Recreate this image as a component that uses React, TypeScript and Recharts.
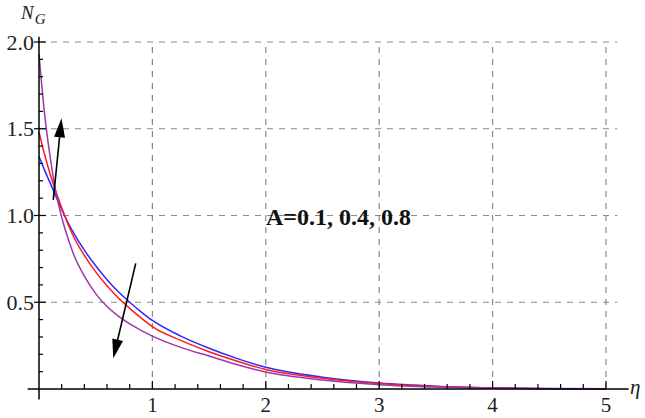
import React from "react";
import { LineChart, Line, XAxis, YAxis, ReferenceLine } from "recharts";

const etaValues = [0, 0.05, 0.1, 0.15, 0.2, 0.25, 0.3, 0.4, 0.5, 0.6, 0.7, 0.8, 0.9, 1.0, 1.25, 1.5, 1.75, 2, 2.5, 3, 3.5, 4, 4.5, 5];
const blueValues = [1.34, 1.26, 1.185, 1.11, 1.035, 0.967, 0.905, 0.8, 0.71, 0.63, 0.56, 0.5, 0.445, 0.395, 0.305, 0.235, 0.175, 0.125, 0.068, 0.034, 0.016, 0.007, 0.003, 0.001];
const redValues = [1.48, 1.35, 1.235, 1.135, 1.045, 0.96, 0.885, 0.77, 0.675, 0.595, 0.525, 0.465, 0.41, 0.36, 0.28, 0.215, 0.16, 0.112, 0.062, 0.031, 0.014, 0.006, 0.002, 0.001];
const purpleValues = [1.93, 1.58, 1.33, 1.13, 0.99, 0.88, 0.785, 0.65, 0.55, 0.475, 0.42, 0.375, 0.338, 0.305, 0.24, 0.19, 0.14, 0.098, 0.052, 0.025, 0.011, 0.004, 0.0015, 0.0005];

const xTicks = [0, 0.2, 0.4, 0.6, 0.8, 1, 1.2, 1.4, 1.6, 1.8, 2, 2.2, 2.4, 2.6, 2.8, 3, 3.2, 3.4, 3.6, 3.8, 4, 4.2, 4.4, 4.6, 4.8, 5];
const xLabels = ["1", "2", "3", "4", "5"];
const yTicks = [0, 0.1, 0.2, 0.3, 0.4, 0.5, 0.6, 0.7, 0.8, 0.9, 1.0, 1.1, 1.2, 1.3, 1.4, 1.5, 1.6, 1.7, 1.8, 1.9, 2.0];
const yLabels = ["0.5", "1.0", "1.5", "2.0"];
const xGrid = [1, 2, 3, 4, 5];
const yGrid = [0.5, 1.0, 1.5, 2.0];
const annotation = "A=0.1, 0.4, 0.8";

const data = etaValues.map((eta, i) => ({
  eta,
  blue: blueValues[i],
  red: redValues[i],
  purple: purpleValues[i],
}));

const FONT = '"Liberation Serif", "Times New Roman", serif';

const isMajor = (v: number, step: number) => Math.abs(v / step - Math.round(v / step)) < 1e-6;

const XTick = (props: any) => {
  const { x, y, payload } = props;
  const v = payload.value;
  const major = isMajor(v, 1);
  if (v === 0) return <g />;
  const label = xLabels.find((l) => Number(l) === Math.round(v));
  return (
    <g>
      <line x1={x} y1={y} x2={x} y2={y - (major ? 8 : 5)} stroke="#000" strokeWidth={1.2} />
      {major && (
        <text x={x} y={y + 23} textAnchor="middle" fontFamily={FONT} fontSize={21} fill="#222">
          {label}
        </text>
      )}
    </g>
  );
};

const YTick = (props: any) => {
  const { x, y, payload } = props;
  const v = payload.value;
  if (v === 0) return <g />;
  const major = isMajor(v, 0.5);
  const label = yLabels.find((l) => Math.abs(Number(l) - v) < 1e-6);
  return (
    <g>
      <line x1={major ? x - 5 : x} y1={y} x2={x + (major ? 7 : 4)} y2={y} stroke="#000" strokeWidth={1.2} />
      {major && (
        <text x={x - 5} y={y + 7.5} textAnchor="end" fontFamily={FONT} fontSize={22} fill="#222">
          {label}
        </text>
      )}
    </g>
  );
};

const arrowShape = (props: any) => {
  const { x1, y1, x2, y2 } = props;
  const dx = x2 - x1;
  const dy = y2 - y1;
  const len = Math.sqrt(dx * dx + dy * dy) || 1;
  const ux = dx / len;
  const uy = dy / len;
  const L = 19;
  const W = 11;
  const bx = x2 - ux * L;
  const by = y2 - uy * L;
  const px = -uy;
  const py = ux;
  const pts = `${x2},${y2} ${bx + (px * W) / 2},${by + (py * W) / 2} ${bx - (px * W) / 2},${by - (py * W) / 2}`;
  return (
    <g>
      <line x1={x1} y1={y1} x2={bx + ux * 3} y2={by + uy * 3} stroke="#000" strokeWidth={1.6} />
      <polygon points={pts} fill="#000" />
    </g>
  );
};

export default function App() {
  return (
    <div style={{ position: "absolute", left: 0, top: 0, width: 645, height: 418, background: "#fff" }}>
      <LineChart
        width={645}
        height={418}
        data={data}
        margin={{ top: 42, right: 27.7, left: 0, bottom: 0 }}
      >
        <XAxis
          dataKey="eta"
          type="number"
          domain={[0, 5.1]}
          ticks={xTicks}
          interval={0}
          axisLine={false}
          tickLine={false}
          tickSize={0}
          tickMargin={0}
          height={29}
          tick={<XTick />}
        />
        <YAxis
          type="number"
          domain={[0, 2]}
          ticks={yTicks}
          interval={0}
          axisLine={false}
          tickLine={false}
          tickSize={0}
          tickMargin={0}
          width={39}
          tick={<YTick />}
        />
        {xGrid.map((v) => (
          <ReferenceLine key={"gx" + v} x={v} stroke="#8a8a8a" strokeWidth={1.2} strokeDasharray="6 6" />
        ))}
        {yGrid.map((v) => (
          <ReferenceLine key={"gy" + v} y={v} stroke="#8a8a8a" strokeWidth={1.2} strokeDasharray="6 6" />
        ))}
        <Line type="monotone" dataKey="blue" stroke="#2a2aff" strokeWidth={1.5} dot={false} isAnimationActive={false} />
        <Line type="monotone" dataKey="red" stroke="#ff1a1a" strokeWidth={1.5} dot={false} isAnimationActive={false} />
        <Line type="monotone" dataKey="purple" stroke="#9a3aa8" strokeWidth={1.5} dot={false} isAnimationActive={false} />
        <ReferenceLine
          segment={[{ x: -0.1, y: 0 }, { x: 5.2, y: 0 }]}
          stroke="#000"
          strokeWidth={1.5}
          ifOverflow="visible"
        />
        <ReferenceLine
          segment={[{ x: 0, y: -0.06 }, { x: 0, y: 2.03 }]}
          stroke="#000"
          strokeWidth={1.5}
          ifOverflow="visible"
        />
        <ReferenceLine
          segment={[{ x: 0.126, y: 1.09 }, { x: 0.198, y: 1.56 }]}
          ifOverflow="visible"
          shape={arrowShape}
        />
        <ReferenceLine
          segment={[{ x: 0.853, y: 0.724 }, { x: 0.655, y: 0.177 }]}
          ifOverflow="visible"
          shape={arrowShape}
        />
      </LineChart>
      <svg width={645} height={418} style={{ position: "absolute", left: 0, top: 0, pointerEvents: "none" }}>
        <text x={266} y={225} fontFamily={FONT} fontWeight="bold" fontSize={24} fill="#111">
          {annotation}
        </text>
        <text x={21} y={19} fontFamily={FONT} fontStyle="italic" fontSize={19} fill="#222">
          N
          <tspan fontSize={15} dy={5} dx={1}>G</tspan>
        </text>
        <text x={630} y={394} fontFamily={FONT} fontStyle="italic" fontSize={21} fill="#222">
          η
        </text>
      </svg>
    </div>
  );
}
